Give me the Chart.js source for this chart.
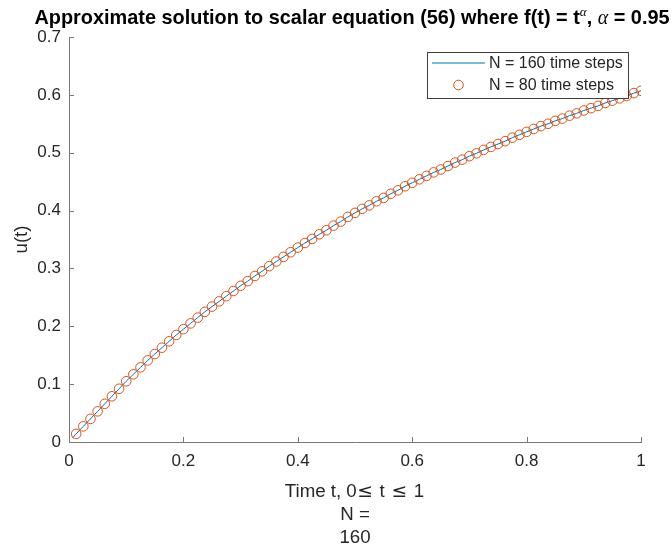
<!DOCTYPE html>
<html>
<head>
<meta charset="utf-8">
<script src="https://cdn.jsdelivr.net/npm/chart.js@4.4.1/dist/chart.umd.min.js"></script>
<style>
  html, body { margin: 0; padding: 0; background: #fff; }
  #chart { display: block; }
</style>
</head>
<body>
<canvas id="chart" width="672" height="548"></canvas>
<script>
// data
var t80 = [0.0125, 0.025, 0.0375, 0.05, 0.0625, 0.075, 0.0875, 0.1,
  0.1125, 0.125, 0.1375, 0.15, 0.1625, 0.175, 0.1875, 0.2,
  0.2125, 0.225, 0.2375, 0.25, 0.2625, 0.275, 0.2875, 0.3,
  0.3125, 0.325, 0.3375, 0.35, 0.3625, 0.375, 0.3875, 0.4,
  0.4125, 0.425, 0.4375, 0.45, 0.4625, 0.475, 0.4875, 0.5,
  0.5125, 0.525, 0.5375, 0.55, 0.5625, 0.575, 0.5875, 0.6,
  0.6125, 0.625, 0.6375, 0.65, 0.6625, 0.675, 0.6875, 0.7,
  0.7125, 0.725, 0.7375, 0.75, 0.7625, 0.775, 0.7875, 0.8,
  0.8125, 0.825, 0.8375, 0.85, 0.8625, 0.875, 0.8875, 0.9,
  0.9125, 0.925, 0.9375, 0.95, 0.9625, 0.975, 0.9875, 1];
var u80 = [0.014, 0.027, 0.040, 0.053, 0.066, 0.079, 0.092, 0.105,
  0.117, 0.129, 0.141, 0.152, 0.163, 0.174, 0.185, 0.195,
  0.205, 0.215, 0.225, 0.234, 0.243, 0.252, 0.261, 0.270,
  0.278, 0.287, 0.295, 0.304, 0.312, 0.320, 0.328, 0.336,
  0.344, 0.351, 0.359, 0.366, 0.374, 0.381, 0.389, 0.396,
  0.403, 0.409, 0.416, 0.422, 0.429, 0.435, 0.442, 0.448,
  0.454, 0.460, 0.466, 0.471, 0.477, 0.483, 0.488, 0.494,
  0.499, 0.505, 0.510, 0.515, 0.520, 0.526, 0.531, 0.536,
  0.541, 0.546, 0.550, 0.555, 0.559, 0.564, 0.568, 0.573,
  0.577, 0.581, 0.586, 0.590, 0.594, 0.598, 0.603, 0.607];
// N = 160 line starts half a step earlier
var lineStartT = [0.00625];
var lineStartU = [0.007];

var xTicks = [0, 0.2, 0.4, 0.6, 0.8, 1];
var yTicks = [0, 0.1, 0.2, 0.3, 0.4, 0.5, 0.6, 0.7];
var labels160 = 'N = 160 time steps';
var labels80 = 'N = 80 time steps';

var axisCol = 'rgb(118,118,118)';
var textCol = '#262626';
var blue = '#0072BD';
var orange = '#D95319';
var sans = '"Liberation Sans", Arial, Helvetica, sans-serif';
var serif = '"Liberation Serif", "DejaVu Serif", serif';
var symb = '"DejaVu Sans", sans-serif';

var lineData = [];
for (var i = 0; i < lineStartT.length; i++) lineData.push({x: lineStartT[i], y: lineStartU[i]});
var circData = [];
for (var k = 0; k < t80.length; k++) {
  lineData.push({x: t80[k], y: u80[k]});
  circData.push({x: t80[k], y: u80[k]});
}

// draw a row of text pieces centred on cx
function drawPieces(ctx, parts, cx, y) {
  var total = 0;
  parts.forEach(function(p) { ctx.font = p.f; p.w = ctx.measureText(p.s).width + (p.gap || 0) * 2; total += p.w; });
  var x = cx - total / 2;
  ctx.textAlign = 'left';
  parts.forEach(function(p) { ctx.font = p.f; ctx.fillText(p.s, x + (p.gap || 0), y + (p.dy || 0)); x += p.w; });
}

// inward ticks, title, axis labels, legend box
var matlabLook = {
  id: 'matlabLook',
  afterDraw: function(chart) {
    var ctx = chart.ctx, a = chart.chartArea;
    var xs = chart.scales.x, ys = chart.scales.y;
    ctx.save();
    ctx.strokeStyle = axisCol;
    ctx.lineWidth = 1;
    ctx.beginPath();
    xTicks.forEach(function(v) {
      var px = Math.round(xs.getPixelForValue(v)) + 0.5;
      ctx.moveTo(px, a.bottom); ctx.lineTo(px, a.bottom - 5);
    });
    yTicks.forEach(function(v) {
      var py = Math.round(ys.getPixelForValue(v)) + 0.5;
      ctx.moveTo(a.left, py); ctx.lineTo(a.left + 5, py);
    });
    ctx.stroke();

    var cx = (a.left + a.right) / 2;

    // title with Greek alpha pieces
    var tb = 'bold 19.9px ' + sans;
    ctx.fillStyle = '#000';
    ctx.textBaseline = 'alphabetic';
    drawPieces(ctx, [
      {s: 'Approximate solution to scalar equation (56) where f(t) = t', f: tb},
      {s: '\u03B1', f: 'italic 13px ' + serif, dy: -8},
      {s: ', ', f: tb},
      {s: '\u03B1', f: 'italic 19.9px ' + serif},
      {s: ' = 0.95', f: tb}
    ], cx - 3, 24);

    // x label lines
    var lf = '18.7px ' + sans;
    ctx.fillStyle = textCol;
    ctx.textBaseline = 'middle';
    drawPieces(ctx, [
      {s: 'Time t, 0', f: lf},
      {s: '\u2264', f: '18.7px ' + symb, gap: 0.5},
      {s: ' t ', f: lf, gap: 1},
      {s: '\u2264', f: '18.7px ' + symb, gap: 0.5},
      {s: ' 1', f: lf, gap: 1}
    ], cx, 492);
    ctx.textAlign = 'center';
    ctx.font = lf;
    ctx.fillText('N =', cx, 515);
    ctx.fillText('160', cx, 538);

    // y label
    ctx.save();
    ctx.translate(22, (a.top + a.bottom) / 2);
    ctx.rotate(-Math.PI / 2);
    ctx.fillText('u(t)', 0, 0);
    ctx.restore();

    // legend
    ctx.fillStyle = '#fff';
    ctx.fillRect(427.5, 52.5, 201, 46);
    ctx.strokeStyle = 'rgb(60,60,60)';
    ctx.lineWidth = 1;
    ctx.strokeRect(427.5, 52.5, 201, 46);
    ctx.strokeStyle = blue;
    ctx.beginPath(); ctx.moveTo(432, 63); ctx.lineTo(485, 63); ctx.stroke();
    ctx.strokeStyle = orange;
    ctx.beginPath(); ctx.arc(458.5, 85, 4.8, 0, Math.PI * 2); ctx.stroke();
    ctx.fillStyle = textCol;
    ctx.textAlign = 'left';
    ctx.font = '16px ' + sans;
    ctx.fillText(labels160, 489, 64);
    ctx.fillText(labels80, 489, 86);
    ctx.restore();
  }
};

var chart = new Chart(document.getElementById('chart'), {
  type: 'scatter',
  data: {
    datasets: [{
      label: labels80,
      data: circData,
      showLine: false,
      pointStyle: 'circle',
      pointRadius: 4.8,
      borderWidth: 1,
      borderColor: orange,
      backgroundColor: 'rgba(0,0,0,0)'
    }, {
      label: labels160,
      data: lineData,
      showLine: true,
      fill: false,
      tension: 0,
      pointRadius: 0,
      borderWidth: 1,
      borderColor: blue
    }]
  },
  options: {
    responsive: false,
    animation: false,
    devicePixelRatio: 1,
    layout: { padding: { top: 37, right: 31, left: 0, bottom: 0 } },
    plugins: { legend: { display: false }, tooltip: { enabled: false } },
    scales: {
      x: {
        type: 'linear', min: 0, max: 1,
        afterBuildTicks: function(s) { s.ticks = xTicks.map(function(v) { return {value: v}; }); },
        afterFit: function(s) { s.height = 106; },
        ticks: { padding: 9, color: textCol, font: { size: 17, family: sans },
          callback: function(v) { return +v.toFixed(1); } },
        grid: { display: false, drawTicks: false },
        border: { display: true, color: axisCol, width: 1 }
      },
      y: {
        type: 'linear', min: 0, max: 0.7,
        afterBuildTicks: function(s) { s.ticks = yTicks.map(function(v) { return {value: v}; }); },
        afterFit: function(s) { s.width = 69; },
        ticks: { padding: 8, color: textCol, font: { size: 17, family: sans },
          callback: function(v) { return +v.toFixed(1); } },
        grid: { display: false, drawTicks: false },
        border: { display: true, color: axisCol, width: 1 }
      }
    }
  },
  plugins: [matlabLook]
});
</script>
</body>
</html>
